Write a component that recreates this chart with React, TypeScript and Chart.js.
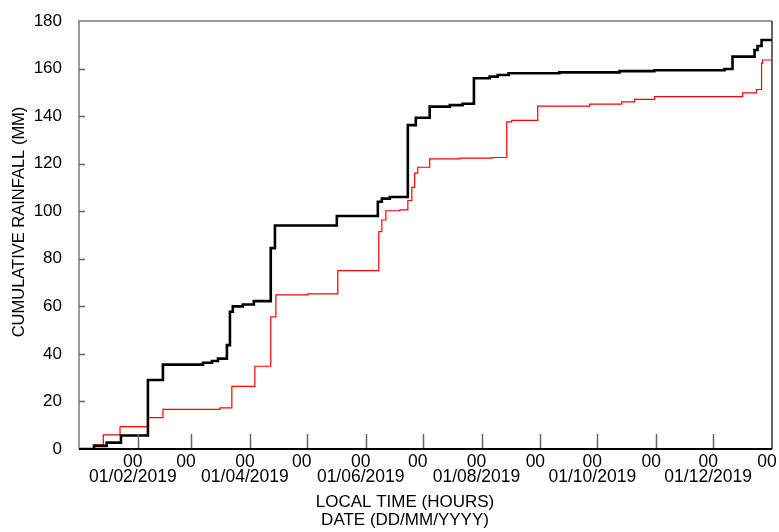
import React, { useEffect, useRef } from "react";
import { Chart, registerables } from "chart.js";

Chart.register(...registerables);

// Day of year 2019 (0 = 01/01/2019 00:00) at which each cumulative value is reached
const blackDays = [0, 7.9, 14.6, 22.1, 36.3, 44.2, 65.3, 70, 73.2, 77.9, 79.5, 81, 86.3, 92.1, 101, 103.2, 135.8, 157.4, 159.5, 163.7, 173.2, 177.4, 184.7, 195.3, 202, 208, 216.3, 220.5, 226.3, 253, 284.7, 303, 340, 344.2, 355.8, 357.4, 359.5, 365];
const blackRain = [0, 1.3, 2.7, 5.7, 29, 35.5, 36.3, 37, 38, 43.7, 57.7, 60, 60.8, 62.2, 84.5, 94, 98, 104, 105.3, 106, 136.2, 139.3, 144, 144.6, 145.2, 155.9, 156.6, 157.3, 158, 158.4, 158.9, 159.3, 159.8, 165, 167.8, 169.5, 172, 172];

const redDays = [0, 7.9, 12.8, 21.6, 36.3, 44.2, 74.2, 80.5, 92.6, 101, 103.7, 120.5, 136.3, 157.9, 159.5, 161.6, 169, 173.2, 175.3, 176.8, 178.4, 184.7, 200.5, 217.9, 225.3, 227.9, 241.6, 269, 285.8, 292.6, 303.2, 349.5, 356.8, 359.5, 360, 365];
const redRain = [0, 1.7, 5.9, 9.4, 13.2, 16.7, 17.3, 26.3, 34.8, 55.6, 64.8, 65.2, 75, 91.4, 96.3, 100.2, 100.6, 104.5, 110, 116, 118.5, 122, 122.3, 122.6, 137.6, 138.2, 144.2, 145, 146, 147, 148.2, 149.8, 151.2, 162.2, 163.6, 163.6];

// x ticks at the start of each month
const monthStarts = [0, 31, 59, 90, 120, 151, 181, 212, 243, 273, 304, 334, 365];
const hourLabels = ["", "00", "00", "00", "00", "00", "00", "00", "00", "00", "00", "00", "00"];
const dateLabels = ["", "01/02/2019", "", "01/04/2019", "", "01/06/2019", "", "01/08/2019", "", "01/10/2019", "", "01/12/2019", ""];

const yTicks = [0, 20, 40, 60, 80, 100, 120, 140, 160, 180];

const xTitle1 = "LOCAL TIME (HOURS)";
const xTitle2 = "DATE (DD/MM/YYYY)";
const yTitle = "CUMULATIVE RAINFALL (MM)";

const TICK_FONT = "Liberation Sans";
const TITLE_FONT = "Liberation Sans";

const framePlugin = {
  id: "frame",
  afterDraw(chart: any) {
    const { ctx, chartArea } = chart;
    const { left, right, top, bottom } = chartArea;
    const xs = chart.scales.x;
    const ys = chart.scales.y;
    ctx.save();
    // frame
    ctx.strokeStyle = "#7a7a7a";
    ctx.lineWidth = 1.5;
    ctx.beginPath();
    ctx.moveTo(left, bottom);
    ctx.lineTo(left, top);
    ctx.lineTo(right, top);
    ctx.stroke();
    ctx.strokeStyle = "#333";
    ctx.beginPath();
    ctx.moveTo(right, top);
    ctx.lineTo(right, bottom);
    ctx.stroke();
    // inward ticks
    ctx.strokeStyle = "#666";
    ctx.lineWidth = 1.5;
    xs.ticks.forEach((t: any) => {
      const px = Math.round(xs.getPixelForValue(t.value)) + 0.5;
      if (t.value <= 0 || t.value >= 365) return;
      ctx.beginPath();
      ctx.moveTo(px, bottom);
      ctx.lineTo(px, bottom - 15);
      ctx.stroke();
    });
    ys.ticks.forEach((t: any) => {
      const py = Math.round(ys.getPixelForValue(t.value)) + 0.5;
      if (t.value <= 0 || t.value >= 180) return;
      ctx.beginPath();
      ctx.moveTo(left, py);
      ctx.lineTo(left + 6, py);
      ctx.stroke();
    });
    // bottom axis line
    ctx.strokeStyle = "#000";
    ctx.lineWidth = 2;
    ctx.beginPath();
    ctx.moveTo(left, bottom);
    ctx.lineTo(right, bottom);
    ctx.stroke();
    // titles
    ctx.fillStyle = "#000";
    ctx.font = `17px "${TITLE_FONT}"`;
    ctx.textAlign = "center";
    ctx.textBaseline = "middle";
    ctx.fillText(xTitle1, 405, 502);
    ctx.fillText(xTitle2, 405, 520);
    ctx.font = `16.5px "${TITLE_FONT}"`;
    ctx.translate(19, 222);
    ctx.rotate(-Math.PI / 2);
    ctx.fillText(yTitle, 0, 0);
    ctx.restore();
  },
};

export default function App() {
  const ref = useRef<HTMLCanvasElement | null>(null);

  useEffect(() => {
    if (!ref.current) return;
    const chart = new Chart(ref.current, {
      type: "line",
      data: {
        datasets: [
          {
            label: "Black",
            data: blackDays.map((d, i) => ({ x: d, y: blackRain[i] })),
            borderColor: "#000000",
            borderWidth: 2.6,
            pointRadius: 0,
            stepped: true,
            fill: false,
          },
          {
            label: "Red",
            data: redDays.map((d, i) => ({ x: d, y: redRain[i] })),
            borderColor: "#ff0000",
            borderWidth: 1.2,
            pointRadius: 0,
            stepped: true,
            fill: false,
          },
        ],
      },
      options: {
        animation: false,
        responsive: false,
        devicePixelRatio: 1,
        layout: { padding: { top: 21, right: 7, left: 0, bottom: 0 } },
        plugins: { legend: { display: false }, tooltip: { enabled: false }, title: { display: false } },
        scales: {
          x: {
            type: "linear",
            min: 0,
            max: 365,
            grid: { display: false, drawTicks: false },
            border: { display: false },
            afterBuildTicks: (scale: any) => {
              scale.ticks = monthStarts.map((v) => ({ value: v }));
            },
            afterFit: (scale: any) => {
              scale.height = 83;
              scale.paddingLeft = 0;
              scale.paddingRight = 0;
            },
            ticks: {
              autoSkip: false,
              maxRotation: 0,
              minRotation: 0,
              padding: 6,
              labelOffset: -5,
              color: "#000",
              font: { family: TICK_FONT, size: 17.5, lineHeight: "15px" } as any,
              callback: (_v: any, i: number) => (dateLabels[i] ? [hourLabels[i], dateLabels[i]] : hourLabels[i]),
            },
          },
          y: {
            type: "linear",
            min: 0,
            max: 180,
            grid: { display: false, drawTicks: false },
            border: { display: false },
            afterBuildTicks: (scale: any) => {
              scale.ticks = yTicks.map((v) => ({ value: v }));
            },
            afterFit: (scale: any) => {
              scale.width = 79;
              scale.paddingTop = 0;
              scale.paddingBottom = 0;
            },
            ticks: {
              padding: 17,
              color: "#000",
              font: { family: TICK_FONT, size: 17 },
              callback: (v: any) => String(v),
            },
          },
        },
      },
      plugins: [framePlugin],
    });
    return () => chart.destroy();
  }, []);

  return (
    <div style={{ position: "absolute", left: 0, top: 0, width: 779, height: 532, background: "#fff" }}>
      <canvas ref={ref} width={779} height={532} style={{ display: "block" }} />
    </div>
  );
}
